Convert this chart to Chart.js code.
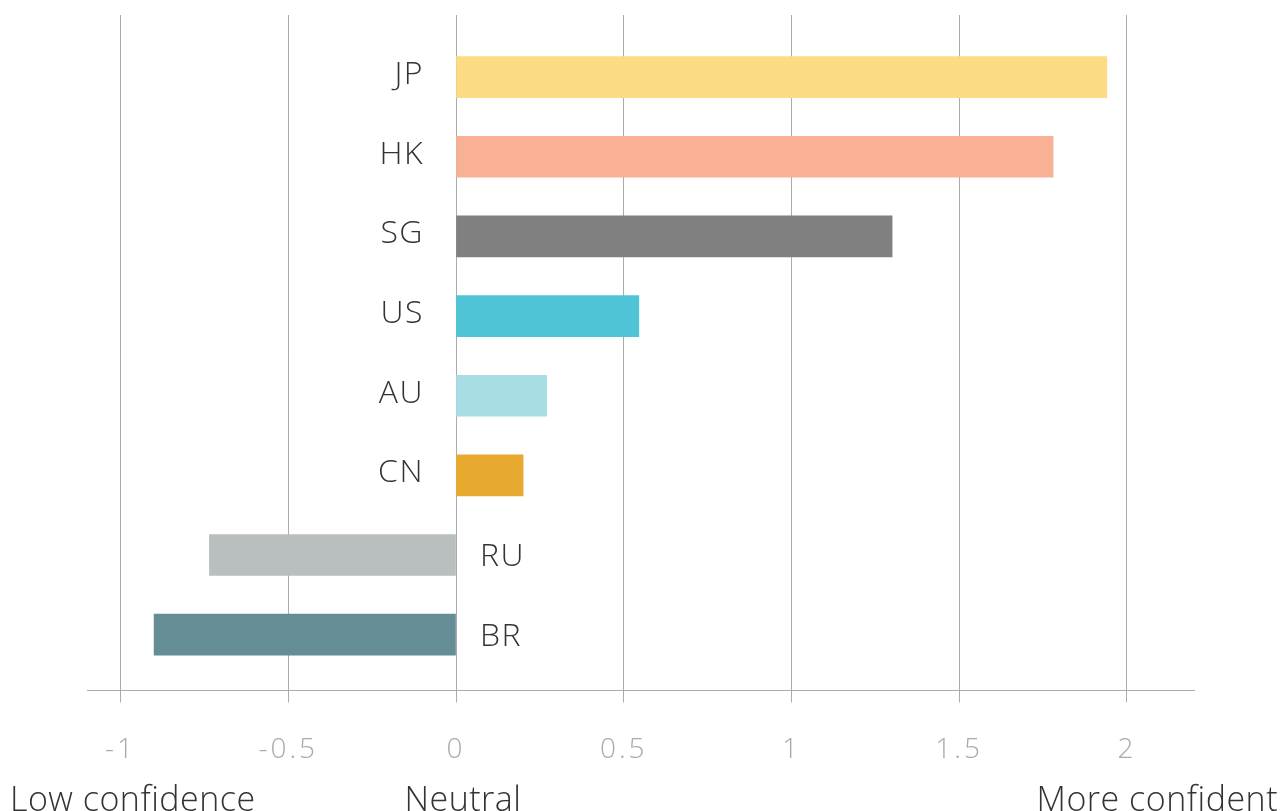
<!DOCTYPE html>
<html>
<head>
<meta charset="utf-8">
<script src="https://cdn.jsdelivr.net/npm/chart.js@4"></script>
<style>
  html, body { margin: 0; padding: 0; background: #fff; }
  #wrap { width: 1283px; height: 811px; }
</style>
</head>
<body>
<div id="wrap"><canvas id="confianza"></canvas></div>
<script>
const paises = ['JP', 'HK', 'SG', 'US', 'AU', 'CN', 'RU', 'BR'];
const valores = [1.94, 1.78, 1.30, 0.545, 0.27, 0.20, -0.735, -0.90];
const colores = ['#fcdb83', '#f8b195', '#808080', '#4ec4d6', '#a8dde6', '#e8aa2e', '#b8bfbe', '#648d95'];
const ticks_x = [-1, -0.5, 0, 0.5, 1, 1.5, 2];
const textos_eje = ['Low confidence', 'Neutral', 'More confident'];

const fuente = '"Open Sans", Lato, sans-serif';

// espaciado de letras para los ticks del eje x
const espaciado = {
    id: 'espaciado',
    beforeDraw(chart) {
        chart.ctx.letterSpacing = '3px';
    }
};

// etiquetas de pais junto al cero
const etiquetasPais = {
    id: 'etiquetasPais',
    afterDatasetsDraw(chart) {
        const ctx = chart.ctx;
        const x0 = chart.scales.x.getPixelForValue(0);
        const meta = chart.getDatasetMeta(0);
        ctx.save();
        ctx.letterSpacing = '1.5px';
        ctx.font = '300 32px ' + fuente;
        ctx.fillStyle = '#333';
        ctx.textBaseline = 'alphabetic';
        meta.data.forEach((bar, i) => {
            if (valores[i] >= 0) {
                ctx.textAlign = 'right';
                ctx.fillText(paises[i], x0 - 32, bar.y + 7);
            } else {
                ctx.textAlign = 'left';
                ctx.fillText(paises[i], x0 + 24, bar.y + 11);
            }
        });
        ctx.restore();
    }
};

// textos bajo el eje
const textosEje = {
    id: 'textosEje',
    afterDraw(chart) {
        const ctx = chart.ctx;
        const y = 811;
        ctx.save();
        ctx.letterSpacing = '0.5px';
        ctx.font = '300 34px ' + fuente;
        ctx.fillStyle = '#333';
        ctx.textBaseline = 'alphabetic';
        ctx.textAlign = 'left';
        ctx.fillText(textos_eje[0], 10, y);
        ctx.textAlign = 'center';
        ctx.fillText(textos_eje[1], chart.scales.x.getPixelForValue(0) + 7, y);
        ctx.textAlign = 'right';
        ctx.fillText(textos_eje[2], chart.width - 5, y);
        ctx.restore();
    }
};

new Chart(document.getElementById('confianza').getContext('2d'), {
    type: 'bar',
    data: {
        datasets: [{
            data: valores.map((v, i) => ({ x: v, y: i })),
            backgroundColor: colores,
            borderWidth: 0,
            barThickness: 41
        }]
    },
    options: {
        indexAxis: 'y',
        responsive: true,
        maintainAspectRatio: false,
        animation: false,
        layout: {
            padding: { left: 87, right: 89, top: 15, bottom: 13 }
        },
        scales: {
            x: {
                type: 'linear',
                min: -1.1,
                max: 2.2,
                z: 1,
                afterBuildTicks: (scale) => {
                    scale.ticks = ticks_x.map(v => ({ value: v }));
                },
                grid: {
                    color: 'rgba(0,0,0,0.33)',
                    lineWidth: 1,
                    drawTicks: true,
                    tickLength: 12
                },
                border: {
                    display: true,
                    color: '#aaa',
                    width: 1
                },
                ticks: {
                    color: '#aaa',
                    padding: 31,
                    font: { family: fuente, size: 28, weight: '300' },
                    callback: (v) => String(v)
                }
            },
            y: {
                type: 'linear',
                reverse: true,
                offset: false,
                min: -0.78,
                max: 7.7,
                display: false
            }
        },
        plugins: {
            legend: { display: false },
            tooltip: { enabled: false }
        }
    },
    plugins: [espaciado, etiquetasPais, textosEje]
});
</script>
</body>
</html>
